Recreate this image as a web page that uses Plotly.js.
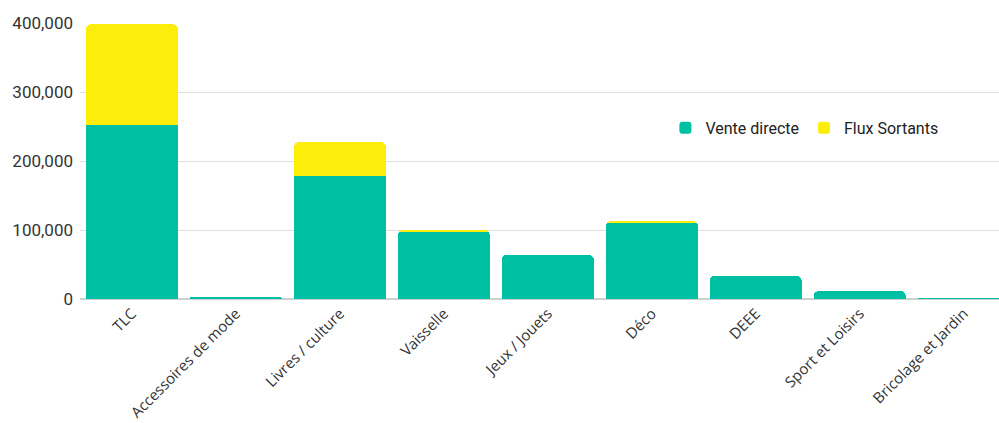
<!DOCTYPE html>
<html>
<head>
<meta charset="utf-8">
<script src="https://cdn.plot.ly/plotly-3.0.1.min.js"></script>
<style>html,body{margin:0;padding:0;background:#fff;}#chart{width:999px;height:423px;}</style>
</head>
<body>
<div id="chart"></div>
<script>
var categories = ["TLC", "Accessoires de mode", "Livres / culture", "Vaisselle", "Jeux / Jouets", "Déco", "DEEE", "Sport et Loisirs", "Bricolage et Jardin"];
var venteDirecte = [252000, 3000, 178000, 97500, 64000, 110000, 33500, 11500, 1500];
var fluxSortants = [146000, 0, 49500, 2500, 0, 3000, 0, 0, 0];
var yTicks = [0, 100000, 200000, 300000, 400000];

var traces = [
  {type: "bar", name: "Vente directe", x: categories, y: venteDirecte, marker: {color: "#00C0A3"}, width: 0.885},
  {type: "bar", name: "Flux Sortants", x: categories, y: fluxSortants, marker: {color: "#FCEE0A"}, width: 0.885}
];
var layout = {
  width: 999, height: 423,
  margin: {l: 80, r: 0, t: 23, b: 124},
  barmode: "stack",
  barcornerradius: 5,
  paper_bgcolor: "#fff", plot_bgcolor: "#fff",
  font: {family: "Roboto, sans-serif", color: "#333", size: 15},
  showlegend: true,
  legend: {orientation: "h", x: 0.637, xanchor: "left", y: 0.62, yanchor: "middle", font: {size: 16, color: "#222"}, traceorder: "normal", itemwidth: 30},
  xaxis: {type: "category", range: [-0.5, 8.34], tickangle: -45, showgrid: false, showline: false, ticks: "", ticklabelstandoff: 2, tickfont: {family: "'Open Sans', sans-serif", size: 15, color: "#333"}},
  yaxis: {range: [0, 400000], tickvals: yTicks, tickformat: ",", showgrid: true, gridcolor: "#e0e0e0", gridwidth: 1, zeroline: true, zerolinecolor: "#d0d0d0", zerolinewidth: 2, showline: false, ticks: "", ticklabelstandoff: 6, tickfont: {size: 17, color: "#333"}}
};
Plotly.newPlot("chart", traces, layout, {displayModeBar: false, staticPlot: true});
</script>
</body>
</html>
